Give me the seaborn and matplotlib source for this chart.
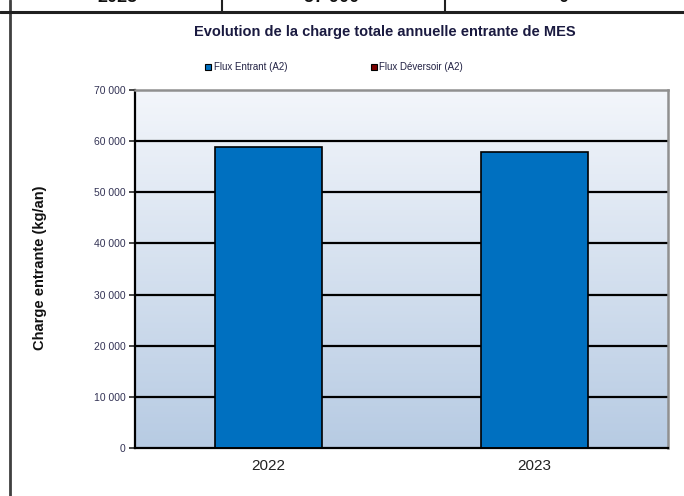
import numpy as np
import pandas as pd
import matplotlib
matplotlib.use("Agg")
import matplotlib.pyplot as plt
import matplotlib.colors as mcolors
from matplotlib.lines import Line2D
import seaborn as sns

# Données
annees = ['2022', '2023']
flux_entrant = [58900, 57900]
flux_deversoir = [0, 0]
series = ['Flux Entrant (A2)', 'Flux Déversoir (A2)']
couleurs = ['#0070c0', '#7a0000']
yticks = [0, 10000, 20000, 30000, 40000, 50000, 60000, 70000]
# ligne du tableau coupée en haut de l'image
tableau = ['2023', '57 900', '0']

df = pd.DataFrame({
    'annee': annees * 2,
    'valeur': flux_entrant + flux_deversoir,
    'serie': [series[0]] * len(annees) + [series[1]] * len(annees),
})

sns.set_style("white")
plt.rcParams['font.family'] = ['Liberation Sans', 'DejaVu Sans']

fig = plt.figure(figsize=(6.84, 4.96), dpi=100)
W, H = 684, 496

def fx(px):
    return px / W

def fy(py):
    return 1 - py / H

# cadre du document
fig.add_artist(Line2D([fx(10), fx(10)], [0, 1], color='#404040', lw=2))
fig.add_artist(Line2D([0, 1], [fy(12), fy(12)], color='#202020', lw=2.2))
for xs in [222, 445]:
    fig.add_artist(Line2D([fx(xs), fx(xs)], [fy(12), 1], color='#202020', lw=1.5))
for txt, xc in zip(tableau, [117, 332, 563]):
    fig.text(fx(xc), fy(6), txt, ha='center', va='bottom', fontsize=13,
             fontweight='bold', color='#111111')

ax = fig.add_axes([fx(135), fy(448), fx(668) - fx(135), (448 - 90) / H])

# fond en dégradé (clair en haut, plus foncé en bas)
cmap = mcolors.LinearSegmentedColormap.from_list('fond', ['#f3f6fb', '#b7cbe3'])
grad = np.linspace(0, 1, 256).reshape(-1, 1)
ax.imshow(grad, cmap=cmap, aspect='auto', extent=[-0.5, 1.5, 0, 70000],
          zorder=0)

sns.barplot(data=df, x='annee', y='valeur', hue='serie', palette=couleurs,
            dodge=False, width=0.4, edgecolor='black', linewidth=1.2,
            saturation=1, legend=False, ax=ax, zorder=3)

ax.set_xlim(-0.5, 1.5)
ax.set_ylim(0, 70000)
ax.set_yticks(yticks)
ax.set_yticklabels([f"{v:,}".replace(',', ' ') for v in yticks],
                   fontsize=7.5, color='#333355')
for v in yticks[1:-1]:
    ax.axhline(v, color='black', lw=1.6, zorder=1)

ax.tick_params(axis='y', length=4, width=1.2, direction='out', pad=3, left=True)
ax.tick_params(axis='x', length=0, labelsize=11, pad=8, colors='#222222')
ax.set_xlabel('')
ax.set_ylabel('')

for s in ['top', 'right']:
    ax.spines[s].set_color('#909090')
    ax.spines[s].set_linewidth(1.8)
ax.spines['left'].set_color('black')
ax.spines['left'].set_linewidth(1.6)
ax.spines['bottom'].set_color('black')
ax.spines['bottom'].set_linewidth(1.6)

fig.text(fx(385), fy(32), 'Evolution de la charge totale annuelle entrante de MES',
         ha='center', va='center', fontsize=10.5, fontweight='bold', color='#1a1a40')
fig.text(fx(40), fy(268), 'Charge entrante (kg/an)', rotation=90,
         ha='center', va='center', fontsize=10.5, fontweight='bold', color='#111111')

handles = [Line2D([], [], marker='s', ls='none', markersize=5,
                  markerfacecolor=c, markeredgecolor='black', markeredgewidth=0.8)
           for c in couleurs]
leg = fig.legend(handles, series, loc='center left', bbox_to_anchor=(fx(198), fy(67)),
                 ncol=2, frameon=False, fontsize=7, handletextpad=0.1,
                 columnspacing=8.4, handlelength=1, borderpad=0)
for t in leg.get_texts():
    t.set_color('#222244')

fig.savefig('out.png', dpi=100)
